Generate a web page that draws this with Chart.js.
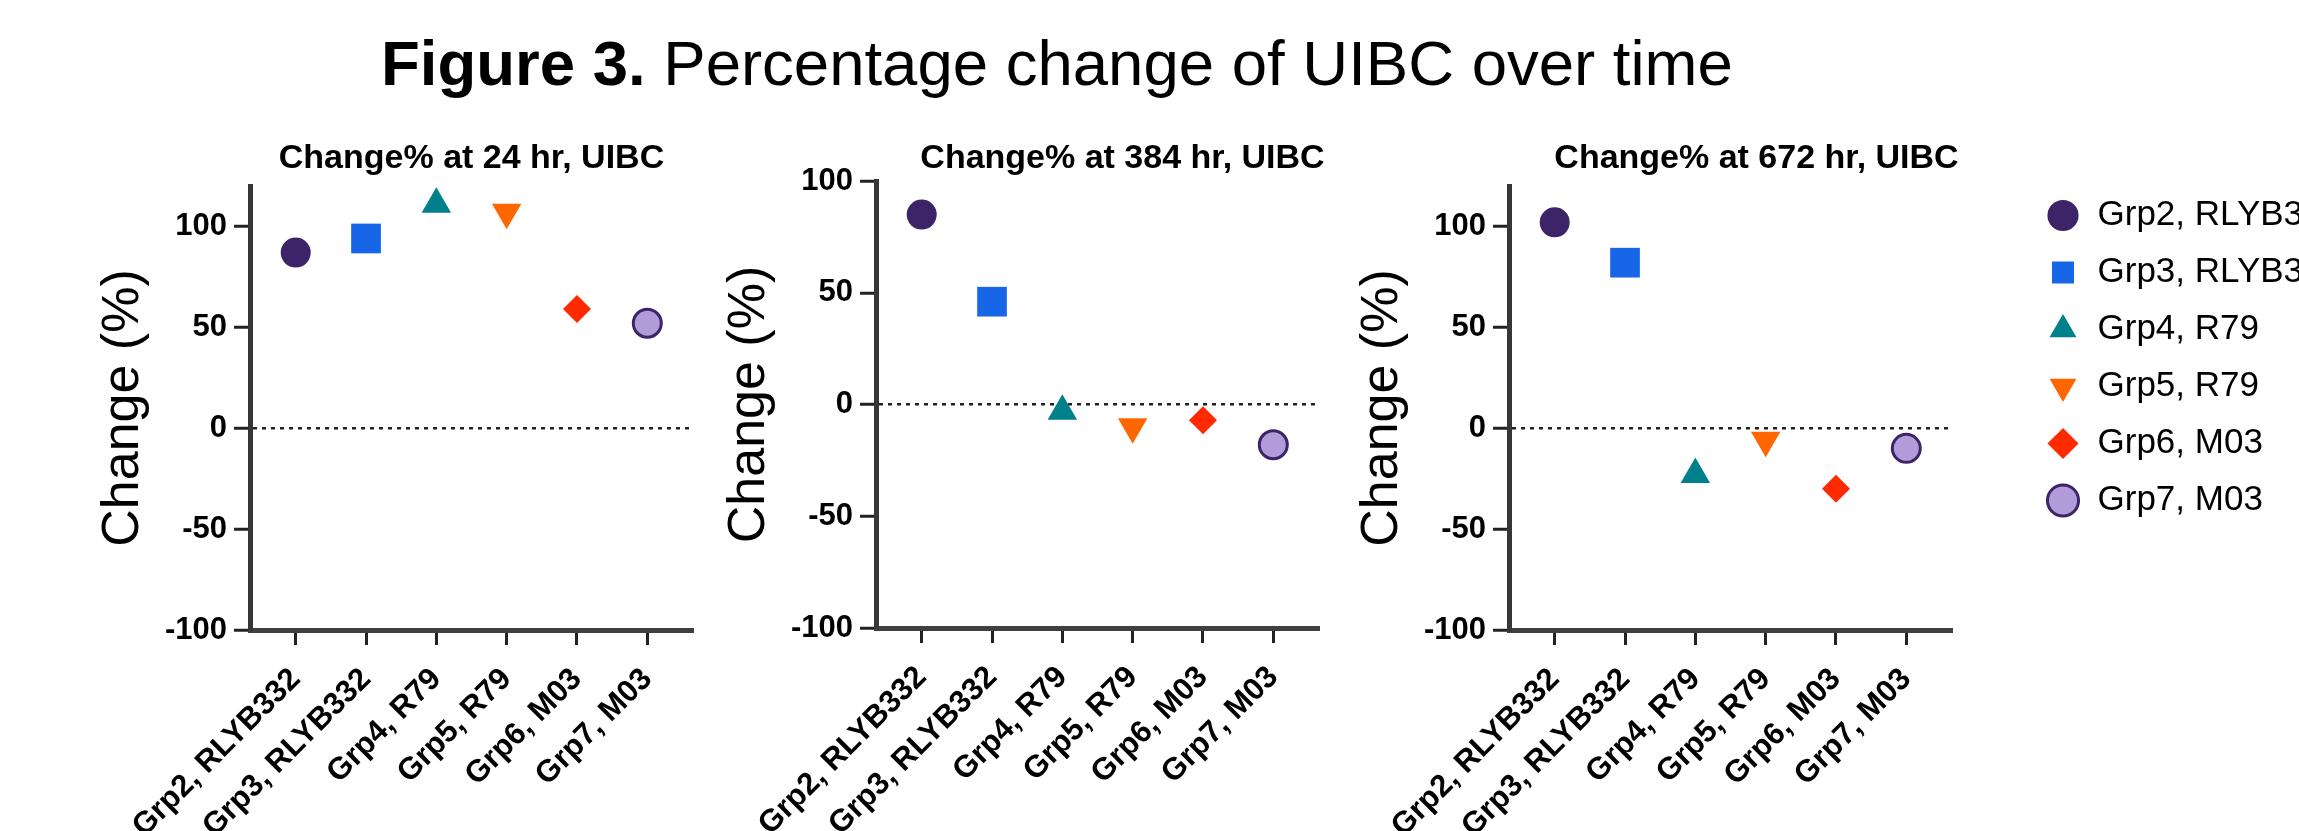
<!DOCTYPE html>
<html>
<head>
<meta charset="utf-8">
<title>Figure 3. Percentage change of UIBC over time</title>
<script src="https://cdn.jsdelivr.net/npm/chart.js@4.4.1/dist/chart.umd.min.js"></script>
<style>
  html, body { margin: 0; padding: 0; background: #fff; overflow: hidden; width: 2299px; height: 831px; }
  .box { position: absolute; }
  #figTitle {
    position: absolute; left: 381px; top: 32px;
    font: 63.5px/1 "Liberation Sans", Arial, sans-serif; color: #000; white-space: nowrap;
  }
</style>
</head>
<body>
<div id="figTitle"><b>Figure 3.</b> Percentage change of UIBC over time</div>
<div class="box" style="left:92px;top:0;width:622px;height:831px"><canvas id="c24"></canvas></div>
<div class="box" style="left:718px;top:0;width:622px;height:831px"><canvas id="c384"></canvas></div>
<div class="box" style="left:1351px;top:0;width:622px;height:831px"><canvas id="c672"></canvas></div>
<div class="box" style="left:2024px;top:176px;width:1400px;height:450px"><canvas id="legend"></canvas></div>

<script>
// groups on the x axis
const groups = ['Grp2, RLYB332', 'Grp3, RLYB332', 'Grp4, R79', 'Grp5, R79', 'Grp6, M03', 'Grp7, M03'];
const xPositions = [0, 1, 2, 3, 4, 5];
const yTicks = [-100, -50, 0, 50, 100];

// change (%) of UIBC for each group
const change24h = [87, 94, 111, 107, 59, 52];
const change384h = [85, 46, -3, -10, -7, -18];
const change672h = [102, 82, -23, -6, -30, -10];

const panelTitles = ['Change% at 24 hr, UIBC', 'Change% at 384 hr, UIBC', 'Change% at 672 hr, UIBC'];

// marker look per group
const fillColors = ['#3d2368', '#1766e8', '#00808a', '#ff6600', '#ff2a00', '#b19bd8'];
const borderColors = ['#3d2368', '#1766e8', '#00808a', '#ff6600', '#ff2a00', '#3d2368'];
const borderWidths = [0, 0, 0, 0, 0, 3];
const markerStyles = ['circle', 'rect', 'triangle', 'triangle', 'rectRot', 'circle'];
const markerRotation = [0, 0, 0, 180, 0, 0];
const markerRadius = [15, 21, 17, 17, 14, 14];

Chart.defaults.font.family = '"Liberation Sans", Arial, Helvetica, sans-serif';
Chart.defaults.color = '#000';

// title above each panel
const panelTitle = {
  id: 'panelTitle',
  afterDraw(chart, args, opts) {
    const {ctx, chartArea} = chart;
    ctx.save();
    ctx.font = 'bold 34px "Liberation Sans", Arial, sans-serif';
    ctx.fillStyle = '#000';
    ctx.textAlign = 'center';
    ctx.textBaseline = 'alphabetic';
    ctx.fillText(opts.text, (chartArea.left + chartArea.right) / 2 + opts.dx, opts.baseline);
    ctx.restore();
  }
};

function makePanel(id, values, title, yMax, padTop, xAxisH, titleDx) {
  const datasets = groups.map((g, i) => ({
    label: g,
    data: [{x: xPositions[i], y: values[i]}],
    pointStyle: markerStyles[i],
    pointRotation: markerRotation[i],
    pointRadius: markerRadius[i],
    pointHoverRadius: markerRadius[i],
    backgroundColor: fillColors[i],
    borderColor: borderColors[i],
    borderWidth: borderWidths[i],
    clip: false
  }));

  return new Chart(document.getElementById(id), {
    type: 'scatter',
    data: {datasets: datasets},
    options: {
      responsive: true,
      maintainAspectRatio: false,
      animation: false,
      layout: {padding: {top: padTop, right: 20, bottom: 0, left: 0}},
      plugins: {
        legend: {display: false},
        tooltip: {enabled: false},
        panelTitle: {text: title, dx: titleDx, baseline: 168}
      },
      scales: {
        x: {
          type: 'linear',
          min: -0.65,
          max: 5.65,
          afterBuildTicks: axis => { axis.ticks = xPositions.map(v => ({value: v})); },
          afterFit: axis => { axis.height = xAxisH; },
          ticks: {
            autoSkip: false,
            maxRotation: 45,
            minRotation: 45,
            padding: 16,
            color: '#000',
            font: {size: 31, weight: 'bold'},
            callback: v => groups[v]
          },
          grid: {drawOnChartArea: false, tickLength: 15, tickWidth: 3, tickColor: '#222'},
          border: {color: '#404040', width: 5}
        },
        y: {
          min: -100,
          max: yMax,
          afterBuildTicks: axis => { axis.ticks = yTicks.map(v => ({value: v})); },
          afterFit: axis => { axis.width = 158; },
          ticks: {padding: 7, color: '#000', font: {size: 31, weight: 'bold'}},
          grid: {
            color: c => (c.tick && c.tick.value === 0) ? '#222' : 'rgba(0,0,0,0)',
            lineWidth: 2.5,
            tickLength: 16,
            tickWidth: 3,
            tickColor: '#222'
          },
          border: {color: '#363636', width: 5, dash: [4, 5]},
          title: {display: true, text: 'Change (%)', color: '#000', font: {size: 52}, padding: 0}
        }
      }
    },
    plugins: [panelTitle]
  });
}

makePanel('c24', change24h, panelTitles[0], 120, 186, 201, 0);
makePanel('c384', change384h, panelTitles[1], 100, 181, 203, 25);
makePanel('c672', change672h, panelTitles[2], 120, 186, 201, 26);

// shared legend on the right
new Chart(document.getElementById('legend'), {
  type: 'scatter',
  data: {datasets: []},
  options: {
    responsive: true,
    maintainAspectRatio: false,
    animation: false,
    scales: {x: {display: false}, y: {display: false}},
    plugins: {
      tooltip: {enabled: false},
      legend: {
        position: 'left',
        align: 'start',
        maxWidth: 600,
        labels: {
          usePointStyle: true,
          boxWidth: 34,
          boxHeight: 22,
          padding: 22,
          color: '#000',
          font: {size: 35},
          generateLabels: () => groups.map((g, i) => ({
            text: g,
            fillStyle: fillColors[i],
            strokeStyle: borderColors[i],
            lineWidth: borderWidths[i],
            pointStyle: markerStyles[i],
            rotation: markerRotation[i],
            hidden: false,
            datasetIndex: i
          }))
        }
      }
    }
  }
});
</script>
</body>
</html>
